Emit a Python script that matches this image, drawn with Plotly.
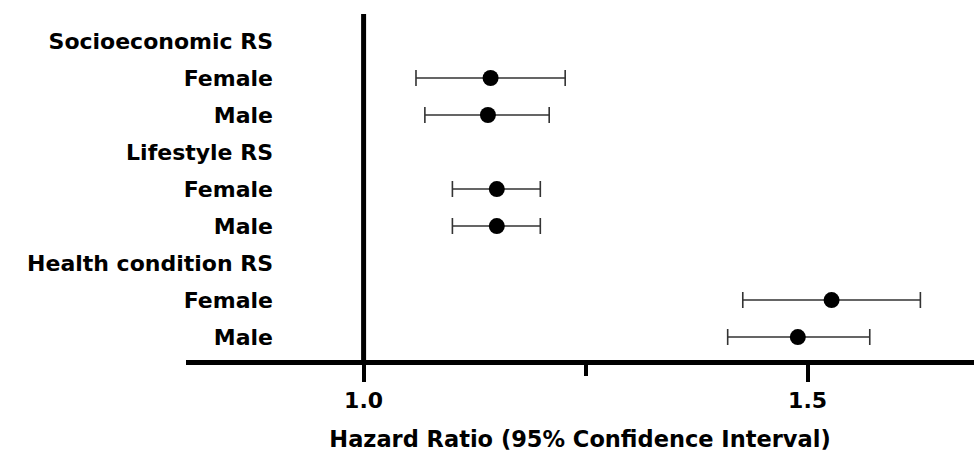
import plotly.graph_objects as go

row_labels = ["Socioeconomic RS", "Female", "Male",
              "Lifestyle RS", "Female", "Male",
              "Health condition RS", "Female", "Male"]
hr = [None, 1.143, 1.140, None, 1.150, 1.150, None, 1.527, 1.489]
ci_low = [None, 1.059, 1.069, None, 1.100, 1.100, None, 1.427, 1.410]
ci_high = [None, 1.227, 1.209, None, 1.199, 1.199, None, 1.627, 1.570]
x_ticks = [1.0, 1.5]
x_tick_labels = ["1.0", "1.5"]
x_title = "Hazard Ratio (95% Confidence Interval)"

rows = list(range(len(row_labels)))
idx = [i for i, v in enumerate(hr) if v is not None]
xs = [hr[i] for i in idx]
ys = [rows[i] for i in idx]
plus = [ci_high[i] - hr[i] for i in idx]
minus = [hr[i] - ci_low[i] for i in idx]

W, H = 974, 455
ML, MR, MT, MB = 186, 0, 14, 95
px_per_unit = 888.0
x0 = 0.8
x1 = x0 + (W - ML - MR) / px_per_unit

font = dict(family="DejaVu Sans", size=22, color="black", weight="bold")

fig = go.Figure()
fig.add_trace(go.Scatter(
    x=xs, y=ys, mode="markers",
    marker=dict(symbol="circle", size=16, color="black"),
    error_x=dict(type="data", symmetric=False, array=plus, arrayminus=minus,
                 color="#333333", thickness=1.6, width=8),
    showlegend=False, hoverinfo="skip",
))

fig.add_shape(type="line", xref="x", yref="paper", x0=1.0, x1=1.0, y0=0, y1=1,
              line=dict(color="black", width=5), layer="above")

label_axis_px = 273
fig.update_layout(
    width=W, height=H,
    margin=dict(l=ML, r=MR, t=MT, b=MB, pad=0),
    paper_bgcolor="white", plot_bgcolor="white",
    font=font,
    xaxis=dict(
        range=[x0, x1], showgrid=False, zeroline=False,
        showline=True, linecolor="black", linewidth=5,
        ticks="outside", ticklen=17, tickwidth=4, tickcolor="black",
        tickvals=x_ticks, ticktext=x_tick_labels,
        tickfont=dict(family="DejaVu Sans", size=22, color="black", weight="bold"),
        minor=dict(tickvals=[1.25], ticks="outside", ticklen=11, tickwidth=4,
                   tickcolor="black", showgrid=False),
        title=dict(text=x_title, standoff=20,
                   font=dict(family="DejaVu Sans", size=22.5, color="black", weight="bold")),
        fixedrange=True,
    ),
    yaxis=dict(
        range=[8.62, -0.73], showgrid=False, zeroline=False, showline=False,
        ticks="", tickvals=rows, ticktext=row_labels,
        tickfont=dict(family="DejaVu Sans", size=22, color="black", weight="bold"),
        anchor="free", position=(label_axis_px - ML) / (W - ML - MR),
        fixedrange=True,
    ),
)

fig.write_html("out.html")
